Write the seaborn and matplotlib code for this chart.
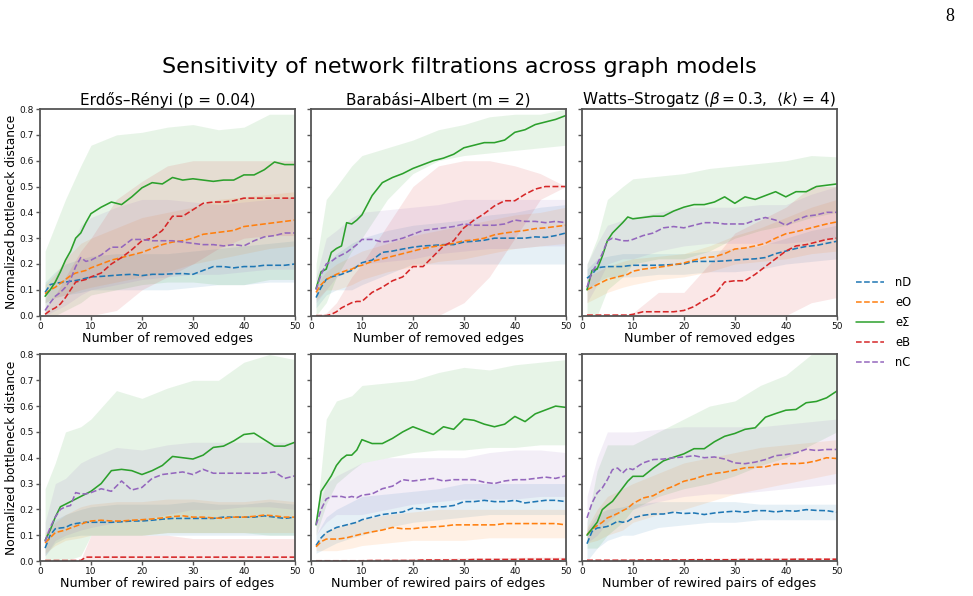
import numpy as np
import pandas as pd
import matplotlib
matplotlib.use("Agg")
import matplotlib.pyplot as plt
from matplotlib.lines import Line2D
import seaborn as sns

# ---------------- data ----------------
SERIES = ["nD", "eO", "eΣ", "eB", "nC"]
COLORS = ["#1f77b4", "#ff7f0e", "#2ca02c", "#d62728", "#9467bd"]
X = [1, 2, 3, 4, 5, 6, 7, 8, 9, 10, 12, 14, 16, 18, 20, 22, 24, 26, 28, 30,
     32, 34, 36, 38, 40, 42, 44, 46, 48, 50]
XB = [1, 3, 5, 8, 10, 15, 20, 25, 30, 35, 40, 45, 50]

TITLES = ["Erdős–Rényi (p = 0.04)", "Barabási–Albert (m = 2)",
          "Watts–Strogatz ($\\beta = 0.3$,  $\\langle k\\rangle$ = 4)"]
XLABELS = ["Number of removed edges", "Number of rewired pairs of edges"]
YLABEL = "Normalized bottleneck distance"
SUPTITLE = "Sensitivity of network filtrations across graph models"
YTICKS = [0.0, 0.1, 0.2, 0.3, 0.4, 0.5, 0.6, 0.7, 0.8]
XTICKS = [0, 10, 20, 30, 40, 50]

# Erdős–Rényi, removed edges
ER_RM_MEAN = {
    "nD": [0.09, 0.12, 0.125, 0.128, 0.13, 0.133, 0.136, 0.14, 0.145, 0.15, 0.152, 0.155, 0.158, 0.16, 0.155, 0.16, 0.16, 0.162, 0.163, 0.16, 0.175, 0.19, 0.19, 0.185, 0.19, 0.19, 0.195, 0.195, 0.195, 0.20],
    "eO": [0.085, 0.1, 0.11, 0.125, 0.14, 0.155, 0.165, 0.17, 0.175, 0.185, 0.2, 0.215, 0.225, 0.235, 0.245, 0.26, 0.275, 0.285, 0.29, 0.30, 0.315, 0.32, 0.325, 0.33, 0.345, 0.35, 0.355, 0.36, 0.365, 0.37],
    "eΣ": [0.075, 0.1, 0.13, 0.17, 0.215, 0.25, 0.30, 0.32, 0.36, 0.395, 0.42, 0.44, 0.43, 0.46, 0.495, 0.515, 0.51, 0.535, 0.525, 0.53, 0.525, 0.52, 0.525, 0.525, 0.545, 0.545, 0.565, 0.595, 0.585, 0.585],
    "eB": [0.005, 0.02, 0.03, 0.045, 0.07, 0.1, 0.13, 0.135, 0.14, 0.15, 0.165, 0.2, 0.225, 0.255, 0.29, 0.30, 0.33, 0.385, 0.385, 0.41, 0.435, 0.44, 0.44, 0.445, 0.455, 0.455, 0.455, 0.455, 0.455, 0.455],
    "nC": [0.02, 0.05, 0.075, 0.09, 0.11, 0.14, 0.19, 0.225, 0.21, 0.215, 0.235, 0.265, 0.265, 0.295, 0.295, 0.29, 0.29, 0.29, 0.285, 0.28, 0.275, 0.275, 0.27, 0.275, 0.27, 0.29, 0.305, 0.31, 0.32, 0.32],
}
ER_RM_LO = {
    "nD": [0.05, 0.07, 0.08, 0.09, 0.1, 0.1, 0.1, 0.1, 0.11, 0.12, 0.12, 0.13, 0.13],
    "eO": [0.05, 0.07, 0.08, 0.1, 0.11, 0.13, 0.15, 0.17, 0.2, 0.22, 0.24, 0.26, 0.27],
    "eΣ": [0.0, 0.0, 0.02, 0.05, 0.08, 0.1, 0.12, 0.13, 0.13, 0.12, 0.12, 0.14, 0.14],
    "eB": [0.0, 0.0, 0.0, 0.0, 0.0, 0.02, 0.1, 0.15, 0.2, 0.26, 0.3, 0.31, 0.31],
    "nC": [0.0, 0.02, 0.04, 0.08, 0.1, 0.12, 0.14, 0.15, 0.16, 0.16, 0.17, 0.18, 0.18],
}
ER_RM_HI = {
    "nD": [0.13, 0.17, 0.2, 0.22, 0.23, 0.24, 0.24, 0.24, 0.25, 0.26, 0.27, 0.28, 0.29],
    "eO": [0.12, 0.16, 0.22, 0.28, 0.3, 0.34, 0.38, 0.4, 0.42, 0.45, 0.46, 0.47, 0.48],
    "eΣ": [0.25, 0.35, 0.45, 0.58, 0.66, 0.7, 0.71, 0.73, 0.74, 0.72, 0.73, 0.78, 0.78],
    "eB": [0.03, 0.08, 0.15, 0.25, 0.3, 0.45, 0.52, 0.58, 0.6, 0.6, 0.6, 0.6, 0.6],
    "nC": [0.06, 0.15, 0.22, 0.35, 0.38, 0.42, 0.45, 0.45, 0.44, 0.43, 0.44, 0.45, 0.46],
}

# Barabási–Albert, removed edges
BA_RM_MEAN = {
    "nD": [0.07, 0.11, 0.14, 0.15, 0.155, 0.16, 0.168, 0.175, 0.19, 0.205, 0.215, 0.245, 0.25, 0.258, 0.265, 0.27, 0.272, 0.275, 0.275, 0.285, 0.288, 0.292, 0.3, 0.3, 0.30, 0.30, 0.305, 0.303, 0.31, 0.32],
    "eO": [0.09, 0.12, 0.14, 0.15, 0.16, 0.168, 0.175, 0.18, 0.19, 0.195, 0.21, 0.22, 0.23, 0.24, 0.25, 0.26, 0.267, 0.273, 0.28, 0.29, 0.293, 0.3, 0.313, 0.32, 0.325, 0.33, 0.337, 0.34, 0.345, 0.35],
    "eΣ": [0.105, 0.17, 0.18, 0.245, 0.26, 0.27, 0.36, 0.355, 0.37, 0.39, 0.465, 0.515, 0.535, 0.55, 0.57, 0.585, 0.6, 0.61, 0.625, 0.65, 0.66, 0.67, 0.67, 0.68, 0.71, 0.72, 0.74, 0.75, 0.76, 0.775],
    "eB": [0.0, 0.0, 0.0, 0.005, 0.015, 0.03, 0.04, 0.05, 0.055, 0.055, 0.09, 0.11, 0.135, 0.15, 0.19, 0.19, 0.23, 0.27, 0.29, 0.34, 0.37, 0.395, 0.425, 0.445, 0.445, 0.47, 0.49, 0.5, 0.5, 0.5],
    "nC": [0.1, 0.16, 0.2, 0.21, 0.225, 0.235, 0.245, 0.26, 0.275, 0.295, 0.295, 0.285, 0.29, 0.30, 0.315, 0.33, 0.335, 0.34, 0.345, 0.355, 0.35, 0.35, 0.35, 0.355, 0.37, 0.365, 0.365, 0.36, 0.365, 0.36],
}
BA_RM_LO = {
    "nD": [0.03, 0.08, 0.1, 0.1, 0.12, 0.16, 0.2, 0.2, 0.2, 0.2, 0.2, 0.2, 0.2],
    "eO": [0.06, 0.1, 0.1, 0.12, 0.14, 0.17, 0.19, 0.21, 0.22, 0.24, 0.26, 0.27, 0.28],
    "eΣ": [0.0, 0.05, 0.15, 0.25, 0.3, 0.45, 0.55, 0.6, 0.62, 0.63, 0.64, 0.65, 0.66],
    "eB": [0.0, 0.0, 0.0, 0.0, 0.0, 0.0, 0.0, 0.0, 0.05, 0.15, 0.3, 0.45, 0.5],
    "nC": [0.05, 0.1, 0.15, 0.18, 0.2, 0.21, 0.22, 0.24, 0.25, 0.26, 0.26, 0.27, 0.27],
}
BA_RM_HI = {
    "nD": [0.12, 0.2, 0.24, 0.28, 0.3, 0.33, 0.35, 0.36, 0.37, 0.39, 0.4, 0.42, 0.43],
    "eO": [0.12, 0.17, 0.2, 0.23, 0.25, 0.28, 0.31, 0.33, 0.35, 0.37, 0.39, 0.4, 0.42],
    "eΣ": [0.2, 0.45, 0.5, 0.58, 0.62, 0.65, 0.68, 0.72, 0.74, 0.77, 0.78, 0.78, 0.8],
    "eB": [0.0, 0.01, 0.05, 0.15, 0.2, 0.35, 0.5, 0.58, 0.6, 0.6, 0.58, 0.55, 0.5],
    "nC": [0.15, 0.3, 0.33, 0.38, 0.4, 0.41, 0.42, 0.43, 0.45, 0.45, 0.45, 0.45, 0.45],
}

# Watts–Strogatz, removed edges
WS_RM_MEAN = {
    "nD": [0.145, 0.16, 0.185, 0.188, 0.19, 0.19, 0.19, 0.19, 0.193, 0.195, 0.195, 0.195, 0.196, 0.198, 0.2, 0.21, 0.21, 0.21, 0.212, 0.215, 0.218, 0.22, 0.225, 0.24, 0.25, 0.26, 0.268, 0.272, 0.28, 0.288],
    "eO": [0.1, 0.11, 0.12, 0.13, 0.14, 0.145, 0.15, 0.155, 0.16, 0.172, 0.18, 0.185, 0.19, 0.197, 0.204, 0.215, 0.225, 0.228, 0.24, 0.258, 0.262, 0.27, 0.28, 0.3, 0.317, 0.325, 0.335, 0.345, 0.355, 0.363],
    "eΣ": [0.1, 0.175, 0.18, 0.23, 0.29, 0.32, 0.34, 0.36, 0.382, 0.375, 0.38, 0.385, 0.385, 0.405, 0.42, 0.43, 0.43, 0.44, 0.46, 0.435, 0.46, 0.45, 0.465, 0.48, 0.46, 0.48, 0.48, 0.5, 0.505, 0.51],
    "eB": [0.002, 0.002, 0.002, 0.002, 0.002, 0.002, 0.002, 0.002, 0.002, 0.005, 0.015, 0.015, 0.015, 0.015, 0.02, 0.035, 0.06, 0.08, 0.13, 0.135, 0.135, 0.16, 0.19, 0.22, 0.25, 0.27, 0.275, 0.285, 0.295, 0.30],
    "nC": [0.11, 0.17, 0.2, 0.24, 0.29, 0.3, 0.295, 0.29, 0.29, 0.295, 0.31, 0.32, 0.34, 0.345, 0.34, 0.35, 0.36, 0.36, 0.355, 0.355, 0.355, 0.37, 0.38, 0.37, 0.35, 0.37, 0.385, 0.39, 0.40, 0.40],
}
WS_RM_LO = {
    "nD": [0.1, 0.13, 0.15, 0.15, 0.15, 0.16, 0.16, 0.17, 0.17, 0.18, 0.2, 0.21, 0.22],
    "eO": [0.05, 0.07, 0.09, 0.11, 0.12, 0.14, 0.15, 0.17, 0.2, 0.21, 0.22, 0.24, 0.25],
    "eΣ": [0.0, 0.0, 0.1, 0.15, 0.2, 0.22, 0.22, 0.25, 0.3, 0.33, 0.35, 0.38, 0.4],
    "eB": [0.0, 0.0, 0.0, 0.0, 0.0, 0.0, 0.0, 0.0, 0.0, 0.0, 0.0, 0.05, 0.07],
    "nC": [0.05, 0.12, 0.2, 0.22, 0.22, 0.25, 0.27, 0.28, 0.28, 0.28, 0.28, 0.29, 0.3],
}
WS_RM_HI = {
    "nD": [0.18, 0.22, 0.23, 0.24, 0.24, 0.24, 0.24, 0.25, 0.26, 0.27, 0.3, 0.33, 0.35],
    "eO": [0.15, 0.17, 0.19, 0.21, 0.22, 0.23, 0.24, 0.27, 0.31, 0.34, 0.38, 0.42, 0.45],
    "eΣ": [0.2, 0.3, 0.45, 0.5, 0.53, 0.54, 0.55, 0.57, 0.58, 0.59, 0.6, 0.62, 0.615],
    "eB": [0.0, 0.0, 0.0, 0.0, 0.01, 0.09, 0.09, 0.2, 0.32, 0.37, 0.42, 0.5, 0.5],
    "nC": [0.2, 0.28, 0.35, 0.37, 0.38, 0.4, 0.42, 0.42, 0.42, 0.43, 0.43, 0.47, 0.5],
}

# Erdős–Rényi, rewired pairs
ER_RW_MEAN = {
    "nD": [0.05, 0.1, 0.125, 0.128, 0.13, 0.14, 0.145, 0.148, 0.15, 0.15, 0.15, 0.15, 0.152, 0.155, 0.155, 0.158, 0.162, 0.165, 0.165, 0.165, 0.165, 0.165, 0.17, 0.17, 0.17, 0.17, 0.175, 0.17, 0.165, 0.17],
    "eO": [0.07, 0.09, 0.11, 0.115, 0.12, 0.128, 0.135, 0.142, 0.15, 0.155, 0.158, 0.155, 0.155, 0.158, 0.16, 0.163, 0.167, 0.172, 0.175, 0.17, 0.17, 0.167, 0.165, 0.17, 0.17, 0.173, 0.178, 0.175, 0.17, 0.17],
    "eΣ": [0.08, 0.12, 0.17, 0.21, 0.22, 0.23, 0.24, 0.25, 0.26, 0.27, 0.30, 0.35, 0.355, 0.35, 0.335, 0.35, 0.37, 0.405, 0.40, 0.395, 0.41, 0.44, 0.445, 0.465, 0.49, 0.495, 0.47, 0.445, 0.445, 0.46],
    "eB": [0.002, 0.002, 0.002, 0.002, 0.002, 0.002, 0.002, 0.002, 0.015, 0.015, 0.015, 0.015, 0.015, 0.015, 0.015, 0.015, 0.015, 0.015, 0.015, 0.015, 0.015, 0.015, 0.015, 0.015, 0.015, 0.015, 0.015, 0.015, 0.015, 0.015],
    "nC": [0.075, 0.13, 0.17, 0.2, 0.21, 0.215, 0.265, 0.26, 0.26, 0.265, 0.28, 0.27, 0.31, 0.275, 0.285, 0.32, 0.335, 0.34, 0.345, 0.335, 0.355, 0.34, 0.34, 0.34, 0.34, 0.34, 0.34, 0.345, 0.32, 0.33],
}
ER_RW_LO = {
    "nD": [0.02, 0.07, 0.09, 0.1, 0.1, 0.1, 0.1, 0.1, 0.1, 0.1, 0.1, 0.1, 0.1],
    "eO": [0.03, 0.06, 0.08, 0.09, 0.1, 0.1, 0.1, 0.11, 0.11, 0.11, 0.11, 0.11, 0.11],
    "eΣ": [0.0, 0.0, 0.0, 0.02, 0.1, 0.1, 0.1, 0.11, 0.11, 0.11, 0.11, 0.1, 0.1],
    "eB": [0.0, 0.0, 0.0, 0.0, 0.0, 0.0, 0.0, 0.0, 0.0, 0.0, 0.0, 0.0, 0.0],
    "nC": [0.02, 0.08, 0.1, 0.12, 0.13, 0.15, 0.16, 0.18, 0.2, 0.2, 0.21, 0.21, 0.2],
}
ER_RW_HI = {
    "nD": [0.1, 0.16, 0.18, 0.2, 0.21, 0.22, 0.22, 0.22, 0.23, 0.22, 0.22, 0.23, 0.22],
    "eO": [0.11, 0.15, 0.18, 0.21, 0.22, 0.23, 0.23, 0.24, 0.24, 0.23, 0.23, 0.24, 0.23],
    "eΣ": [0.28, 0.38, 0.5, 0.52, 0.55, 0.66, 0.63, 0.67, 0.7, 0.7, 0.77, 0.8, 0.78],
    "eB": [0.005, 0.005, 0.005, 0.005, 0.1, 0.1, 0.1, 0.1, 0.087, 0.087, 0.087, 0.087, 0.087],
    "nC": [0.15, 0.3, 0.32, 0.38, 0.4, 0.44, 0.43, 0.45, 0.46, 0.46, 0.46, 0.46, 0.46],
}

# Barabási–Albert, rewired pairs
BA_RW_MEAN = {
    "nD": [0.06, 0.09, 0.11, 0.12, 0.13, 0.135, 0.14, 0.145, 0.15, 0.16, 0.17, 0.18, 0.185, 0.19, 0.205, 0.2, 0.21, 0.21, 0.215, 0.23, 0.23, 0.235, 0.23, 0.23, 0.235, 0.225, 0.23, 0.235, 0.235, 0.23],
    "eO": [0.055, 0.075, 0.085, 0.085, 0.085, 0.087, 0.09, 0.095, 0.1, 0.105, 0.113, 0.12, 0.13, 0.125, 0.125, 0.13, 0.132, 0.135, 0.14, 0.14, 0.14, 0.14, 0.14, 0.145, 0.145, 0.145, 0.145, 0.145, 0.145, 0.14],
    "eΣ": [0.14, 0.27, 0.3, 0.33, 0.37, 0.395, 0.41, 0.41, 0.43, 0.47, 0.455, 0.455, 0.475, 0.5, 0.52, 0.505, 0.49, 0.52, 0.51, 0.55, 0.545, 0.53, 0.52, 0.53, 0.56, 0.54, 0.57, 0.585, 0.6, 0.595],
    "eB": [0.001, 0.001, 0.001, 0.001, 0.001, 0.001, 0.001, 0.001, 0.001, 0.001, 0.002, 0.002, 0.002, 0.002, 0.002, 0.004, 0.004, 0.004, 0.004, 0.004, 0.006, 0.006, 0.006, 0.006, 0.006, 0.007, 0.007, 0.007, 0.007, 0.007],
    "nC": [0.14, 0.2, 0.24, 0.25, 0.25, 0.25, 0.245, 0.25, 0.245, 0.255, 0.26, 0.28, 0.29, 0.315, 0.31, 0.315, 0.32, 0.31, 0.315, 0.315, 0.315, 0.305, 0.3, 0.31, 0.315, 0.315, 0.32, 0.325, 0.32, 0.33],
}
BA_RW_LO = {
    "nD": [0.03, 0.05, 0.07, 0.09, 0.1, 0.13, 0.15, 0.16, 0.17, 0.18, 0.18, 0.18, 0.18],
    "eO": [0.04, 0.04, 0.04, 0.05, 0.06, 0.07, 0.08, 0.08, 0.08, 0.09, 0.09, 0.09, 0.09],
    "eΣ": [0.1, 0.22, 0.3, 0.35, 0.38, 0.4, 0.42, 0.43, 0.43, 0.44, 0.44, 0.45, 0.45],
    "eB": [0.0, 0.0, 0.0, 0.0, 0.0, 0.0, 0.0, 0.0, 0.0, 0.0, 0.0, 0.0, 0.0],
    "nC": [0.1, 0.15, 0.18, 0.18, 0.18, 0.2, 0.22, 0.23, 0.24, 0.24, 0.24, 0.25, 0.25],
}
BA_RW_HI = {
    "nD": [0.1, 0.17, 0.2, 0.23, 0.25, 0.26, 0.27, 0.28, 0.3, 0.3, 0.3, 0.3, 0.3],
    "eO": [0.07, 0.12, 0.13, 0.15, 0.16, 0.18, 0.19, 0.2, 0.2, 0.2, 0.2, 0.2, 0.2],
    "eΣ": [0.15, 0.55, 0.62, 0.64, 0.68, 0.69, 0.7, 0.73, 0.75, 0.74, 0.76, 0.77, 0.78],
    "eB": [0.002, 0.003, 0.005, 0.005, 0.006, 0.008, 0.01, 0.01, 0.012, 0.012, 0.014, 0.015, 0.015],
    "nC": [0.18, 0.3, 0.33, 0.36, 0.38, 0.4, 0.4, 0.4, 0.4, 0.42, 0.43, 0.43, 0.42],
}

# Watts–Strogatz, rewired pairs
WS_RW_MEAN = {
    "nD": [0.067, 0.115, 0.128, 0.13, 0.134, 0.143, 0.154, 0.15, 0.154, 0.167, 0.177, 0.182, 0.182, 0.189, 0.184, 0.186, 0.18, 0.186, 0.19, 0.193, 0.189, 0.195, 0.195, 0.19, 0.195, 0.193, 0.199, 0.196, 0.195, 0.189],
    "eO": [0.102, 0.124, 0.137, 0.15, 0.167, 0.175, 0.184, 0.195, 0.205, 0.222, 0.244, 0.253, 0.275, 0.29, 0.309, 0.318, 0.331, 0.339, 0.344, 0.352, 0.361, 0.363, 0.365, 0.374, 0.377, 0.377, 0.38, 0.388, 0.4, 0.397],
    "eΣ": [0.10, 0.125, 0.15, 0.199, 0.216, 0.231, 0.257, 0.283, 0.309, 0.328, 0.328, 0.36, 0.388, 0.402, 0.415, 0.435, 0.435, 0.462, 0.483, 0.494, 0.51, 0.516, 0.557, 0.571, 0.584, 0.587, 0.613, 0.618, 0.632, 0.658],
    "eB": [0.003, 0.003, 0.003, 0.003, 0.003, 0.003, 0.003, 0.003, 0.003, 0.003, 0.004, 0.004, 0.004, 0.004, 0.004, 0.005, 0.005, 0.005, 0.005, 0.005, 0.006, 0.006, 0.006, 0.006, 0.006, 0.007, 0.007, 0.007, 0.007, 0.007],
    "nC": [0.167, 0.225, 0.264, 0.283, 0.315, 0.354, 0.36, 0.341, 0.36, 0.354, 0.38, 0.393, 0.395, 0.4, 0.403, 0.408, 0.4, 0.403, 0.395, 0.38, 0.377, 0.383, 0.393, 0.408, 0.412, 0.419, 0.433, 0.428, 0.432, 0.432],
}
WS_RW_LO = {
    "nD": [0.0, 0.05, 0.08, 0.1, 0.1, 0.13, 0.14, 0.15, 0.15, 0.16, 0.16, 0.16, 0.16],
    "eO": [0.07, 0.08, 0.1, 0.12, 0.15, 0.18, 0.2, 0.23, 0.26, 0.28, 0.3, 0.32, 0.34],
    "eΣ": [0.05, 0.05, 0.1, 0.15, 0.2, 0.25, 0.28, 0.3, 0.33, 0.37, 0.4, 0.45, 0.5],
    "eB": [0.0, 0.0, 0.0, 0.0, 0.0, 0.0, 0.0, 0.0, 0.0, 0.0, 0.0, 0.0, 0.0],
    "nC": [0.07, 0.1, 0.15, 0.2, 0.2, 0.23, 0.25, 0.26, 0.26, 0.27, 0.28, 0.29, 0.3],
}
WS_RW_HI = {
    "nD": [0.12, 0.18, 0.2, 0.21, 0.22, 0.23, 0.23, 0.23, 0.23, 0.22, 0.22, 0.22, 0.22],
    "eO": [0.13, 0.2, 0.25, 0.28, 0.3, 0.34, 0.38, 0.4, 0.42, 0.44, 0.45, 0.46, 0.47],
    "eΣ": [0.15, 0.35, 0.45, 0.45, 0.45, 0.5, 0.55, 0.6, 0.62, 0.68, 0.72, 0.8, 0.82],
    "eB": [0.005, 0.006, 0.007, 0.008, 0.008, 0.009, 0.01, 0.01, 0.011, 0.012, 0.012, 0.013, 0.013],
    "nC": [0.25, 0.4, 0.5, 0.5, 0.5, 0.51, 0.52, 0.52, 0.52, 0.52, 0.53, 0.54, 0.55],
}

PANELS = [
    [(ER_RM_MEAN, ER_RM_LO, ER_RM_HI), (BA_RM_MEAN, BA_RM_LO, BA_RM_HI), (WS_RM_MEAN, WS_RM_LO, WS_RM_HI)],
    [(ER_RW_MEAN, ER_RW_LO, ER_RW_HI), (BA_RW_MEAN, BA_RW_LO, BA_RW_HI), (WS_RW_MEAN, WS_RW_LO, WS_RW_HI)],
]

# ---------------- style ----------------
sns.set_theme(style="ticks")
plt.rcParams.update({
    "font.family": ["DejaVu Sans"],
    "text.color": "black",
    "axes.labelcolor": "black",
    "axes.titlecolor": "black",
    "axes.edgecolor": "#555555",
    "axes.linewidth": 1.3,
    "xtick.color": "#555555",
    "ytick.color": "#555555",
    "xtick.labelcolor": "#111111",
    "ytick.labelcolor": "#111111",
    "xtick.labelsize": 6.5,
    "ytick.labelsize": 6.5,
    "xtick.major.size": 3,
    "ytick.major.size": 3,
    "xtick.major.width": 1.0,
    "ytick.major.width": 1.0,
    "xtick.major.pad": 1.5,
    "ytick.major.pad": 1.5,
})

palette = dict(zip(SERIES, COLORS))
dashes = {s: ("" if s == "eΣ" else (3.7, 1.6)) for s in SERIES}

fig = plt.figure(figsize=(9.73, 5.96), dpi=100)
axes = fig.subplots(2, 3, sharey=True)
fig.subplots_adjust(left=0.0411, right=0.860, top=0.817, bottom=0.0587,
                    wspace=0.063, hspace=0.188)

for r in range(2):
    for c in range(3):
        ax = axes[r, c]
        mean, lo, hi = PANELS[r][c]
        for s, col in zip(SERIES, COLORS):
            ax.fill_between(XB, lo[s], hi[s], color=col, alpha=0.11, lw=0)
        df = pd.DataFrame({
            "x": np.tile(X, len(SERIES)),
            "y": np.concatenate([mean[s] for s in SERIES]),
            "series": np.repeat(SERIES, len(X)),
        })
        sns.lineplot(data=df, x="x", y="y", hue="series", style="series",
                     hue_order=SERIES, style_order=SERIES, palette=palette,
                     dashes=dashes, linewidth=1.15, legend=False, ax=ax)
        ax.set_xlim(0, 50)
        ax.set_ylim(0, 0.8)
        ax.set_xticks(XTICKS)
        ax.set_yticks(YTICKS)
        ax.set_yticklabels([f"{v:.1f}" for v in YTICKS])
        ax.set_xlabel(XLABELS[r], fontsize=9.2, labelpad=0.5)
        if c == 0:
            ax.set_ylabel(YLABEL, fontsize=8.8, labelpad=1)
        else:
            ax.set_ylabel("")
            ax.tick_params(axis="y", labelleft=False)
        if r == 0:
            ax.set_title(TITLES[c], fontsize=11, pad=3)

fig.suptitle(SUPTITLE, x=0.472, y=0.888, va="center", fontsize=16)
fig.text(0.976, 0.972, "8", family=["Liberation Serif", "DejaVu Serif"],
         fontsize=13, ha="center", va="center")

handles = [Line2D([0], [0], color=col, lw=1.1,
                  linestyle="-" if s == "eΣ" else (0, (3.7, 1.6)))
           for s, col in zip(SERIES, COLORS)]
fig.legend(handles, SERIES, loc="center left", bbox_to_anchor=(0.869, 0.459),
           frameon=False, fontsize=8.3, handlelength=2.4, labelspacing=0.6,
           handletextpad=1.0)

fig.savefig("out.png", dpi=100)
